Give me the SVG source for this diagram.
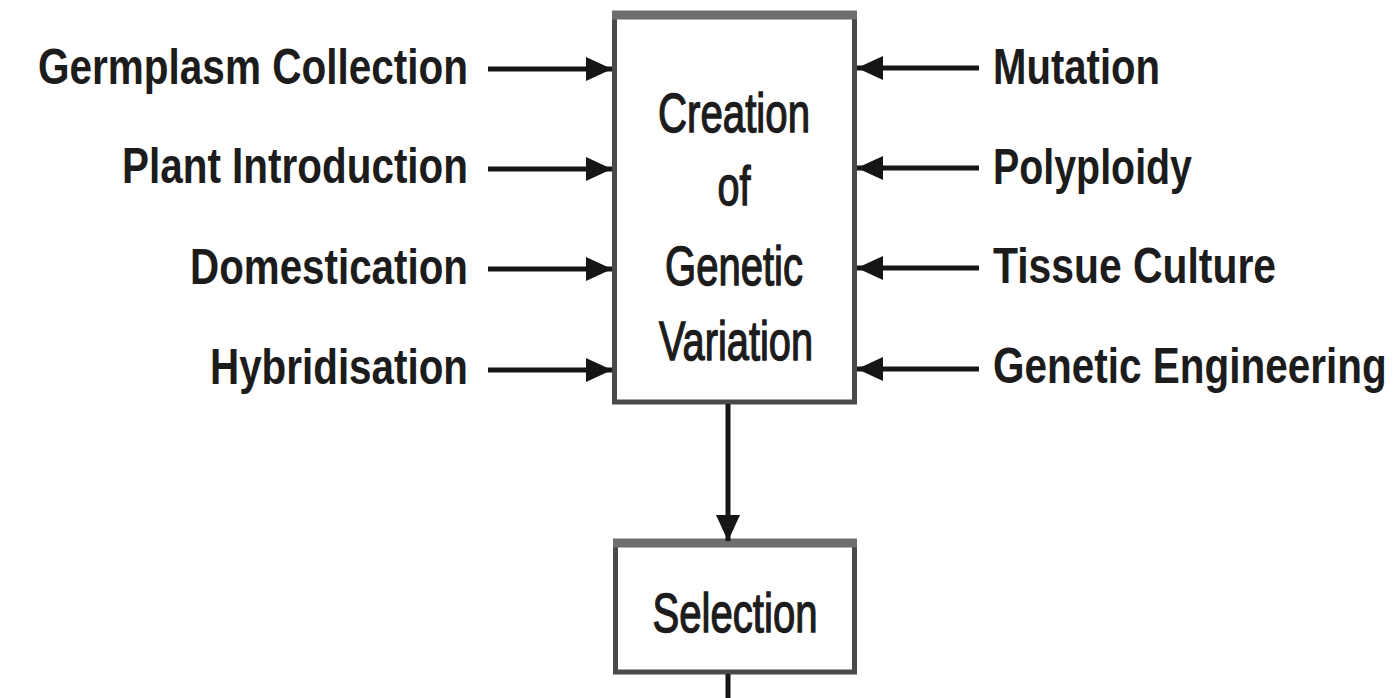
<svg xmlns="http://www.w3.org/2000/svg" width="1398" height="698" viewBox="0 0 1398 698">
  <style>
    .label { font-family: "Liberation Sans", Arial, sans-serif; font-weight: bold; font-size: 50px; fill: #1c1c1c; }
    .boxtext { font-family: "Liberation Sans", Arial, sans-serif; font-size: 56px; fill: #1c1c1c; stroke: #1c1c1c; stroke-width: 1.4px; text-anchor: middle; }
    .box { fill: #ffffff; stroke: #4a4a4a; stroke-width: 5; }
    .boxtop { stroke: #6e6e6e; stroke-width: 9; }
    .conn { stroke: #161616; stroke-width: 5; fill: none; }
  </style>
  <defs>
    <marker id="arrow" markerUnits="userSpaceOnUse" markerWidth="28" markerHeight="26" refX="26" refY="13" orient="auto">
      <path d="M0,1 L26,13 L0,25 Z" fill="#161616"/>
    </marker>
  </defs>
  <rect width="1398" height="698" fill="#ffffff"/>

  <!-- central box -->
  <g id="creation">
    <rect class="box" x="614.5" y="16" width="240" height="386"/>
    <line class="boxtop" x1="612" y1="15" x2="857" y2="15"/>
    <text class="boxtext" x="734" y="132" textLength="152" lengthAdjust="spacingAndGlyphs">Creation</text>
    <text class="boxtext" x="734" y="205" textLength="33" lengthAdjust="spacingAndGlyphs">of</text>
    <text class="boxtext" x="734" y="285" textLength="138" lengthAdjust="spacingAndGlyphs">Genetic</text>
    <text class="boxtext" x="736" y="360" textLength="154" lengthAdjust="spacingAndGlyphs">Variation</text>
  </g>

  <g id="selection">
    <rect class="box" x="615.5" y="544" width="239" height="128"/>
    <line class="boxtop" x1="613" y1="543" x2="857" y2="543"/>
    <text class="boxtext" x="735" y="632" textLength="165" lengthAdjust="spacingAndGlyphs">Selection</text>
  </g>

  <!-- sources on the left -->
  <g id="germplasm"><text class="label" x="468" y="84" text-anchor="end" textLength="430" lengthAdjust="spacingAndGlyphs">Germplasm Collection</text></g>
  <g id="introduction"><text class="label" x="468" y="183" text-anchor="end" textLength="346" lengthAdjust="spacingAndGlyphs">Plant Introduction</text></g>
  <g id="domestication"><text class="label" x="468" y="284" text-anchor="end" textLength="278" lengthAdjust="spacingAndGlyphs">Domestication</text></g>
  <g id="hybridisation"><text class="label" x="468" y="384" text-anchor="end" textLength="258" lengthAdjust="spacingAndGlyphs">Hybridisation</text></g>

  <!-- sources on the right -->
  <g id="mutation"><text class="label" x="993" y="84" textLength="167" lengthAdjust="spacingAndGlyphs">Mutation</text></g>
  <g id="polyploidy"><text class="label" x="993" y="184" textLength="199" lengthAdjust="spacingAndGlyphs">Polyploidy</text></g>
  <g id="tissue"><text class="label" x="993" y="283" textLength="283" lengthAdjust="spacingAndGlyphs">Tissue Culture</text></g>
  <!-- longest label: smaller size, stretched vertically to keep the same cap height -->
  <g id="engineering"><text class="label" transform="translate(993,383) scale(1,1.22)" x="0" y="0" style="font-size:40.5px">Genetic Engineering</text></g>

  <g id="connectors">
    <line class="conn" x1="488" y1="69" x2="612" y2="69" marker-end="url(#arrow)"/>
    <line class="conn" x1="488" y1="169" x2="612" y2="169" marker-end="url(#arrow)"/>
    <line class="conn" x1="488" y1="269" x2="612" y2="269" marker-end="url(#arrow)"/>
    <line class="conn" x1="488" y1="370" x2="612" y2="370" marker-end="url(#arrow)"/>
    <line class="conn" x1="979" y1="68" x2="857" y2="68" marker-end="url(#arrow)"/>
    <line class="conn" x1="979" y1="168" x2="857" y2="168" marker-end="url(#arrow)"/>
    <line class="conn" x1="979" y1="268" x2="857" y2="268" marker-end="url(#arrow)"/>
    <line class="conn" x1="979" y1="369" x2="857" y2="369" marker-end="url(#arrow)"/>
    <line class="conn" x1="728" y1="404" x2="728" y2="541" marker-end="url(#arrow)"/>
    <line class="conn" x1="728" y1="674" x2="728" y2="698"/>
  </g>
</svg>
